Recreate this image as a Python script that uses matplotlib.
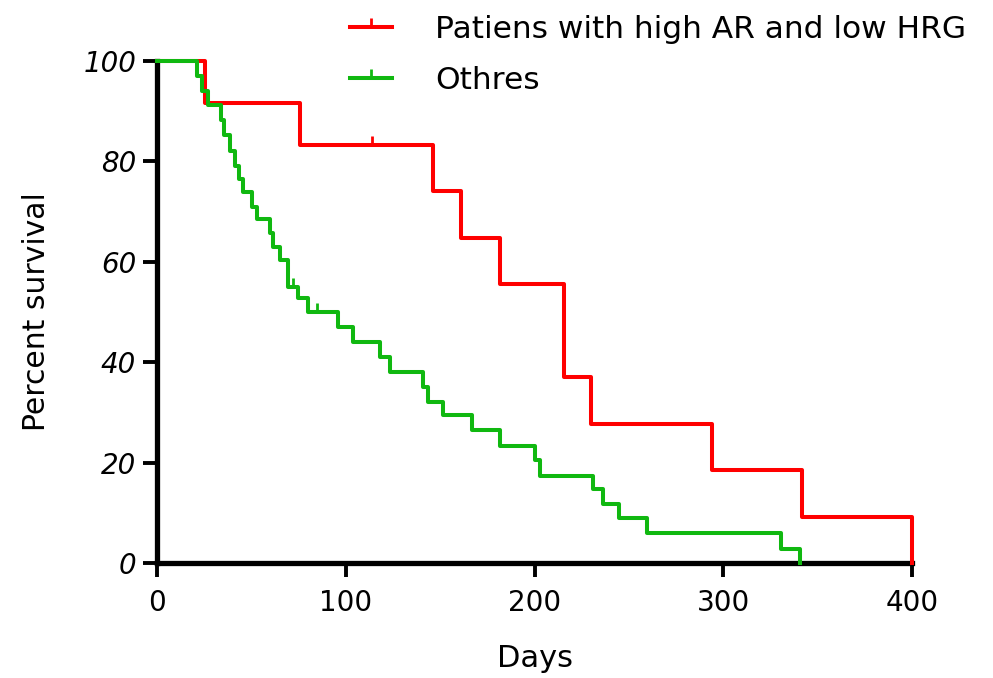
import matplotlib
matplotlib.use('Agg')
import matplotlib.pyplot as plt
from matplotlib.lines import Line2D

# ---- data ----
red_label = 'Patiens with high AR and low HRG'
green_label = 'Othres'

red_times = [0, 25.4, 76.0, 146.0, 161.0, 181.5, 215.8, 230.0, 294.0, 341.5, 400.0]
red_surv = [100, 91.67, 83.33, 74.07, 64.81, 55.56, 37.04, 27.78, 18.52, 9.26, 0]
red_censor_t = [113.7]
red_censor_s = [83.33]

green_times = [0, 21.0, 24.0, 27.2, 34.0, 35.5, 38.7, 41.3, 43.5, 45.5, 50.2, 52.8,
               59.9, 61.6, 65.2, 69.6, 74.9, 80.2, 96.0, 104.0, 118.0, 123.4,
               141.0, 143.8, 151.5, 167.0, 181.7, 200.0, 203.0, 231.0, 236.5,
               244.8, 259.4, 330.6, 340.7]
green_surv = [100, 97.1, 94.1, 91.2, 88.2, 85.3, 82.0, 79.0, 76.5, 74.0, 71.0, 68.5,
              65.7, 63.0, 60.4, 55.0, 52.7, 50.0, 47.0, 44.0, 41.1, 38.0,
              35.0, 32.1, 29.4, 26.4, 23.3, 20.5, 17.4, 14.8, 11.8,
              8.9, 5.9, 2.8, 0]
green_censor_t = [72.2, 84.6]
green_censor_s = [55.0, 50.0]

x_ticks = [0, 100, 200, 300, 400]
y_ticks = [0, 20, 40, 60, 80, 100]

RED = '#FF0000'
GREEN = '#10B810'
TICK = [(0, 0), (0, 1)]

plt.rcParams['font.family'] = ['DejaVu Sans']

fig = plt.figure(figsize=(9.93, 6.78), dpi=100)
ax = fig.add_axes([157 / 993, 1 - 563 / 678, (912 - 157) / 993, (563 - 61) / 678])

ax.step(red_times, red_surv, where='post', color=RED, lw=2.9, clip_on=False, zorder=3)
ax.step(green_times, green_surv, where='post', color=GREEN, lw=2.9, clip_on=False, zorder=4)
ax.plot(red_censor_t, red_censor_s, ls='none', marker=TICK, ms=13, mew=2, color=RED, zorder=3)
ax.plot(green_censor_t, green_censor_s, ls='none', marker=TICK, ms=13, mew=2, color=GREEN, zorder=4)

ax.set_xlim(0, 400)
ax.set_ylim(0, 100)
ax.set_xticks(x_ticks)
ax.set_yticks(y_ticks)
for s in ['top', 'right']:
    ax.spines[s].set_visible(False)
for s in ['left', 'bottom']:
    ax.spines[s].set_linewidth(3.8)
ax.tick_params(direction='out', length=10, width=2.8, labelsize=20)
ax.tick_params(axis='x', pad=9)
ax.tick_params(axis='y', pad=5)
for lab in ax.get_yticklabels():
    lab.set_fontstyle('italic')

ax.set_xlabel('Days', fontsize=22, labelpad=19)
ax.set_ylabel('Percent survival', fontsize=21.5, labelpad=23)

handles = [Line2D([], [], color=RED, lw=2.9, marker=TICK, ms=13, mew=2),
           Line2D([], [], color=GREEN, lw=2.9, marker=TICK, ms=13, mew=2)]
ax.legend(handles, [red_label, green_label], loc='upper left',
          bbox_to_anchor=(350 / 993, 1 - 15 / 678), bbox_transform=fig.transFigure,
          frameon=False, fontsize=22.5, handlelength=1.35, handletextpad=1.38,
          borderpad=0, borderaxespad=0, labelspacing=0.7, numpoints=1)

fig.savefig('out.png', dpi=100)
